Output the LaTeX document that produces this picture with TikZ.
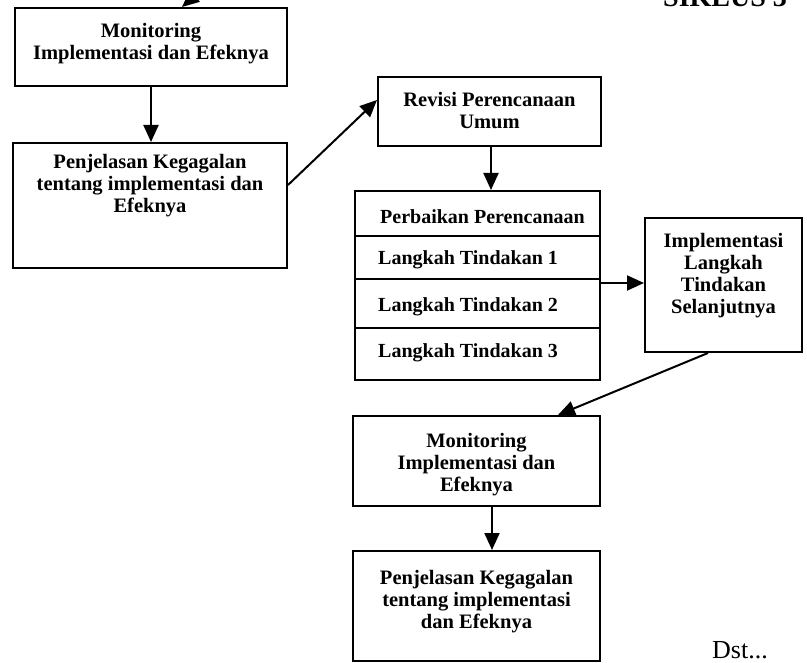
\documentclass[tikz,border=0pt]{standalone}
\usepackage{fontspec}
\setmainfont{Liberation Serif}
\usetikzlibrary{arrows.meta,calc}
\begin{document}
\begin{tikzpicture}[x=1pt,y=-1pt,
  box/.style={draw=black,line width=2pt,rectangle,inner sep=0pt},
  lbl/.style={font=\fontsize{20.5}{22}\selectfont\bfseries,align=center,inner sep=0pt},
  rowlbl/.style={font=\fontsize{20}{22}\selectfont\bfseries,anchor=west,inner sep=0pt},
  arr/.style={line width=2pt,-{Triangle[length=17pt,width=15pt]}}
]
\useasboundingbox (0,0) rectangle (807,663);
\fill[white] (0,0) rectangle (807,663);

% title
\node[font=\fontsize{28}{30}\selectfont\bfseries,anchor=base west,inner sep=0pt] (title) at (663,7) {SIKLUS 3};

% box 1
\node[box,minimum width=272pt,minimum height=78pt] (b1) at (151,47) {};
\node[lbl] (t1) at (151,44) {Monitoring\\Implementasi dan Efeknya};

% box 2
\node[box,minimum width=274pt,minimum height=125pt] (b2) at (150,205.5) {};
\node[lbl] (t2) at (150,186) {Penjelasan Kegagalan\\tentang implementasi dan\\Efeknya};

% revisi
\node[box,minimum width=223pt,minimum height=69pt] (rev) at (489.5,111.5) {};
\node[lbl] (trev) at (489.5,111) {Revisi Perencanaan\\Umum};

% table rows
\node[box,minimum width=245pt,minimum height=45pt] (r0) at (477.5,213.5) {};
\node[box,minimum width=245pt,minimum height=43pt] (r1) at (477.5,257.5) {};
\node[box,minimum width=245pt,minimum height=49pt] (r2) at (477.5,303.5) {};
\node[box,minimum width=245pt,minimum height=52pt] (r3) at (477.5,354) {};
\node[rowlbl] (tr0) at (380,217) {Perbaikan Perencanaan};
\node[rowlbl] (tr1) at (378,260) {Langkah Tindakan 1};
\node[rowlbl] (tr2) at (378,307) {Langkah Tindakan 2};
\node[rowlbl] (tr3) at (378,353) {Langkah Tindakan 3};

% implementasi
\node[box,minimum width=157pt,minimum height=134pt] (imp) at (723.5,285) {};
\node[lbl] (timp) at (723.5,276) {Implementasi\\Langkah\\Tindakan\\Selanjutnya};

% monitoring 2
\node[box,minimum width=247pt,minimum height=90pt] (m2) at (476.5,461) {};
\node[lbl] (tm2) at (476.5,465) {Monitoring\\Implementasi dan\\Efeknya};

% penjelasan 2
\node[box,minimum width=247pt,minimum height=110pt] (p2) at (476.5,606) {};
\node[lbl] (tp2) at (476.5,601.5) {Penjelasan Kegagalan\\tentang implementasi\\dan Efeknya};

% Dst
\node[font=\fontsize{26}{28}\selectfont,anchor=west,inner sep=0pt] (dst) at (712,650) {Dst...};

% connectors
\coordinate (incoming) at (225,-30);
\draw[arr] (incoming) -- (b1.north -| 182,0);
\draw[arr] (b1.south) -- (b1.south |- b2.north);
\draw[arr] (b2.east |- 0,185) -- (rev.west |- 0,100);
\draw[arr] (rev.south -| 491,0) -- (r0.north -| 491,0);
\draw[arr] (r2.east |- 0,283) -- (imp.west |- 0,283);
\draw[arr] (imp.south -| 708,0) -- (m2.north -| 558,0);
\draw[arr] (m2.south -| 492,0) -- (p2.north -| 492,0);
\end{tikzpicture}
\end{document}
